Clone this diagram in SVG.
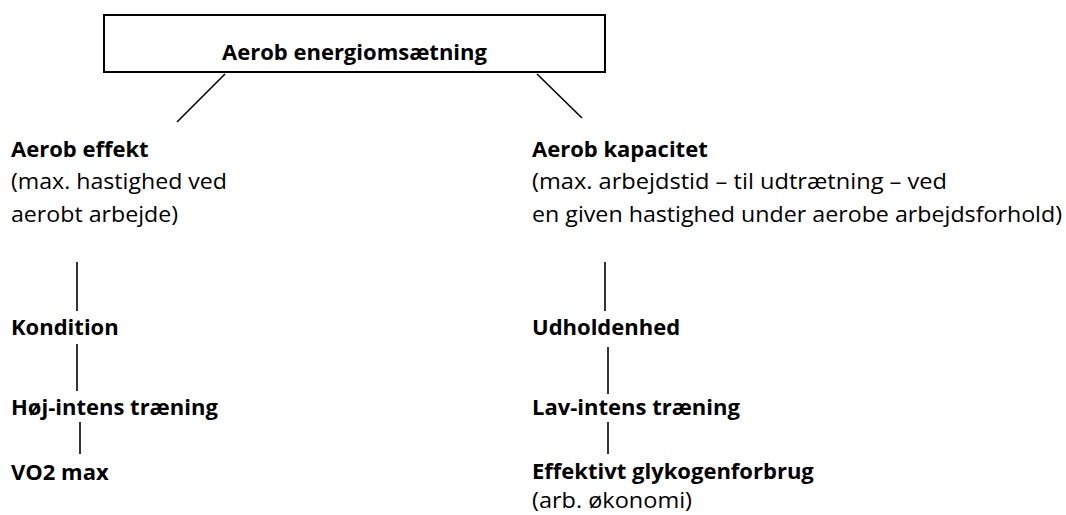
<svg xmlns="http://www.w3.org/2000/svg" width="1066" height="515" viewBox="0 0 1066 515">
<style>
text{font-family:"Open Sans","Noto Sans",sans-serif;font-size:22.5px;fill:#000}
.b{font-weight:bold;font-size:22px}
.c line{stroke:#000;stroke-width:1.6}
</style>
<rect width="1066" height="515" fill="#fff"/>
<g id="root"><rect x="104" y="15" width="501" height="57" fill="#fff" stroke="#000" stroke-width="2"/>
<text class="b" x="222" y="60">Aerob energiomsætning</text></g>
<g class="c" id="connectors">
<line x1="225" y1="74" x2="177" y2="122"/>
<line x1="537" y1="74" x2="582" y2="118"/>
<line x1="77" y1="262" x2="77" y2="311"/>
<line x1="77" y1="344" x2="77" y2="391"/>
<line x1="80" y1="422" x2="80" y2="454"/>
<line x1="605" y1="262" x2="605" y2="311"/>
<line x1="608" y1="347" x2="608" y2="394"/>
<line x1="608" y1="422" x2="608" y2="454"/>
</g>
<g id="effekt"><text x="11" y="157" class="b">Aerob effekt</text><text x="11" y="189" textLength="216" lengthAdjust="spacingAndGlyphs">(max. hastighed ved</text><text x="11" y="222" textLength="167" lengthAdjust="spacingAndGlyphs">aerobt arbejde)</text></g>
<g id="kapacitet"><text x="532" y="157" class="b">Aerob kapacitet</text><text x="532" y="189" textLength="415" lengthAdjust="spacingAndGlyphs">(max. arbejdstid – til udtrætning – ved</text><text x="532" y="222" textLength="530" lengthAdjust="spacingAndGlyphs">en given hastighed under aerobe arbejdsforhold)</text></g>
<g id="kondition"><text x="11" y="335" class="b">Kondition</text></g>
<g id="hoj"><text x="11" y="415" class="b">Høj-intens træning</text></g>
<g id="vo2"><text x="11" y="480" class="b">VO2 max</text></g>
<g id="udholdenhed"><text x="532" y="335" class="b">Udholdenhed</text></g>
<g id="lav"><text x="532" y="415" class="b">Lav-intens træning</text></g>
<g id="glyko"><text x="532" y="479" class="b">Effektivt glykogenforbrug</text><text x="532" y="508" textLength="160" lengthAdjust="spacingAndGlyphs">(arb. økonomi)</text></g>
</svg>
